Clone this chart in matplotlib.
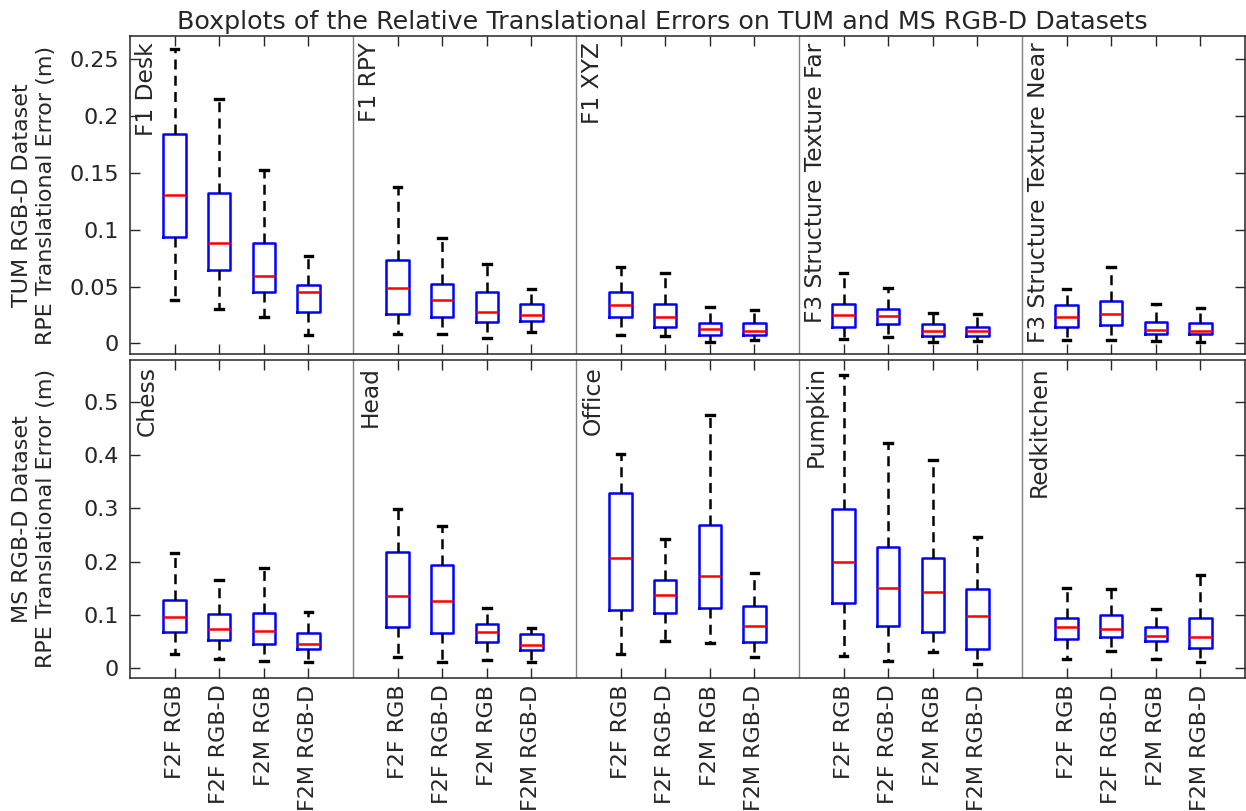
import matplotlib
matplotlib.use("Agg")
from matplotlib import pyplot as plt
from matplotlib import transforms

methods = ["F2F RGB", "F2F RGB-D", "F2M RGB", "F2M RGB-D"]

tum_sequences = ["F1 Desk", "F1 RPY", "F1 XYZ", "F3 Structure Texture Far", "F3 Structure Texture Near"]
ms_sequences = ["Chess", "Head", "Office", "Pumpkin", "Redkitchen"]

# TUM RGB-D boxplot stats (4 methods per sequence)
tum_whislo = [0.038, 0.030, 0.023, 0.007, 0.008, 0.008, 0.0044, 0.0097, 0.007, 0.0067,
              0.001, 0.003, 0.004, 0.006, 0.001, 0.002, 0.003, 0.003, 0.002, 0.001]
tum_q1 = [0.0935, 0.065, 0.045, 0.028, 0.0256, 0.0235, 0.019, 0.020, 0.023, 0.0147,
          0.0076, 0.007, 0.0147, 0.0173, 0.0067, 0.0067, 0.0144, 0.016, 0.0085, 0.008]
tum_med = [0.131, 0.088, 0.059, 0.045, 0.049, 0.038, 0.028, 0.025, 0.034, 0.023,
           0.0123, 0.011, 0.0246, 0.0238, 0.011, 0.011, 0.0235, 0.0255, 0.0117, 0.011]
tum_q3 = [0.184, 0.132, 0.088, 0.051, 0.0735, 0.052, 0.045, 0.035, 0.045, 0.0346,
          0.0176, 0.0176, 0.035, 0.030, 0.0167, 0.0147, 0.0334, 0.037, 0.0188, 0.0176]
tum_whishi = [0.259, 0.215, 0.153, 0.077, 0.138, 0.093, 0.070, 0.048, 0.067, 0.0616,
              0.032, 0.029, 0.0616, 0.049, 0.027, 0.026, 0.0475, 0.0674, 0.035, 0.031]

# MS RGB-D (7-Scenes) boxplot stats
ms_whislo = [0.026, 0.017, 0.014, 0.0125, 0.022, 0.011, 0.016, 0.011, 0.027, 0.051,
             0.047, 0.022, 0.023, 0.014, 0.031, 0.009, 0.018, 0.033, 0.017, 0.012]
ms_q1 = [0.069, 0.053, 0.046, 0.036, 0.078, 0.066, 0.049, 0.034, 0.109, 0.103,
         0.114, 0.049, 0.122, 0.080, 0.069, 0.037, 0.055, 0.059, 0.052, 0.039]
ms_med = [0.097, 0.074, 0.070, 0.046, 0.136, 0.126, 0.0675, 0.043, 0.206, 0.138,
          0.174, 0.079, 0.199, 0.151, 0.143, 0.099, 0.078, 0.073, 0.061, 0.059]
ms_q3 = [0.129, 0.101, 0.104, 0.066, 0.219, 0.194, 0.083, 0.064, 0.328, 0.166,
         0.268, 0.116, 0.298, 0.228, 0.206, 0.148, 0.094, 0.100, 0.077, 0.095]
ms_whishi = [0.217, 0.166, 0.189, 0.106, 0.299, 0.2675, 0.114, 0.076, 0.401, 0.242,
             0.475, 0.178, 0.55, 0.423, 0.39, 0.246, 0.151, 0.149, 0.111, 0.175]

TXT = "#262626"
FS = 16

positions = [5 * g + k for g in range(5) for k in range(1, 5)]
tick_labels = methods * 5


def make_stats(lo, q1, med, q3, hi):
    return [dict(whislo=a, q1=b, med=c, q3=d, whishi=e)
            for a, b, c, d, e in zip(lo, q1, med, q3, hi)]


def draw_panel(ax, stats, names, ylim, yticks, show_xlabels):
    ax.bxp(stats, positions=positions, widths=0.5, capwidths=0.17,
           showfliers=False, manage_ticks=False,
           boxprops=dict(color="blue", lw=1.8),
           medianprops=dict(color="red", lw=1.8),
           whiskerprops=dict(color="black", lw=1.8, linestyle=(0, (4, 2.5))),
           capprops=dict(color="black", lw=2.4))
    for s in [5, 10, 15, 20]:
        ax.axvline(s, color="#808080", lw=1)
    ax.set_xlim(0, 25)
    ax.set_ylim(*ylim)
    ax.set_yticks(yticks)
    ax.set_yticklabels(["%g" % t for t in yticks])
    ax.set_xticks(positions)
    if show_xlabels:
        ax.set_xticklabels(tick_labels, rotation=90, ha="center", va="top")
    else:
        ax.set_xticklabels([])
    ax.tick_params(direction="in", top=True, right=True, length=7, width=1,
                   colors=TXT, labelsize=FS)
    ax.tick_params(axis="x", pad=5)
    ax.tick_params(axis="y", pad=8)
    for sp in ax.spines.values():
        sp.set_color(TXT)
        sp.set_linewidth(1.1)
    trans = transforms.blended_transform_factory(ax.transData, ax.transAxes)
    for g, name in enumerate(names):
        ax.text(5 * g + 0.38, 0.98, name, rotation=90, ha="center", va="top",
                transform=trans, fontsize=16.8, color=TXT)


fig = plt.figure(figsize=(12.46, 8.11), dpi=100)
ax_top = fig.add_axes([0.1043, 0.5635, 0.8949, 0.3921])
ax_bot = fig.add_axes([0.1043, 0.1644, 0.8949, 0.3917])

draw_panel(ax_top, make_stats(tum_whislo, tum_q1, tum_med, tum_q3, tum_whishi),
           tum_sequences, (-0.0094, 0.2706), [0, 0.05, 0.1, 0.15, 0.2, 0.25], False)
draw_panel(ax_bot, make_stats(ms_whislo, ms_q1, ms_med, ms_q3, ms_whishi),
           ms_sequences, (-0.0175, 0.578), [0, 0.1, 0.2, 0.3, 0.4, 0.5], True)

fig.text(34 / 1246, 0.7596, "TUM RGB-D Dataset\nRPE Translational Error (m)",
         rotation=90, ha="center", va="center", multialignment="center",
         fontsize=FS, color=TXT)
fig.text(34 / 1246, 0.3602, "MS RGB-D Dataset\nRPE Translational Error (m)",
         rotation=90, ha="center", va="center", multialignment="center",
         fontsize=FS, color=TXT)

fig.text(662 / 1246, 1 - 29 / 811,
         "Boxplots of the Relative Translational Errors on TUM and MS RGB-D Datasets",
         ha="center", va="baseline", fontsize=18.3, color=TXT)

fig.savefig("out.png", dpi=100)
